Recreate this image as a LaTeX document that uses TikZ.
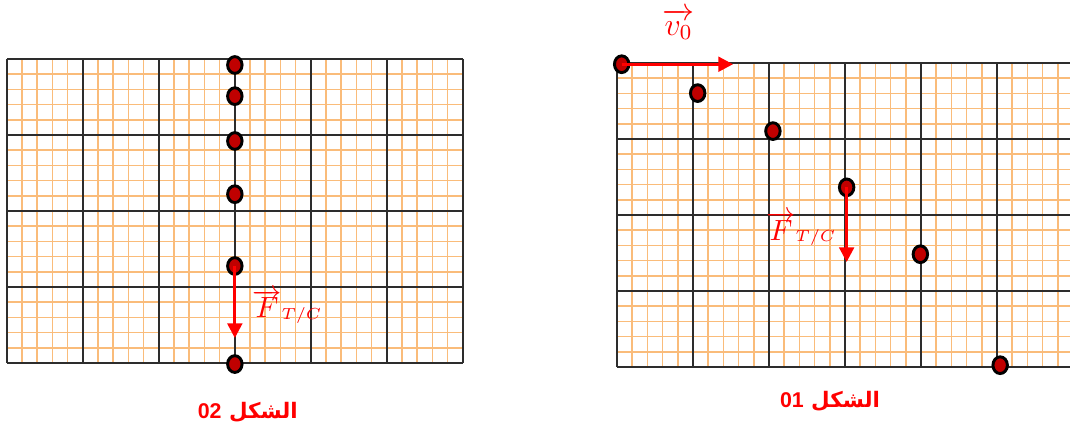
\documentclass[tikz,border=0pt]{standalone}
\usepackage{fontspec}
\usetikzlibrary{shapes.geometric, arrows.meta}
\TeXXeTstate=1
\newfontfamily\arabicfont[Script=Arabic]{DejaVu Sans}
\newfontfamily\digitfont{Liberation Sans}
\definecolor{gridorange}{RGB}{250,188,122}
\definecolor{gridblack}{RGB}{45,45,45}
\definecolor{ballred}{RGB}{192,0,0}
\newcommand{\forcelabel}{$\overrightarrow{F}\raisebox{-0.6pt}{\fontsize{6.5}{7}\selectfont$T/C$}$}

\begin{document}
\begin{tikzpicture}[
    ball/.style={ellipse, draw=black, line width=1.1pt, fill=ballred,
      minimum width=0.19cm, minimum height=0.22cm, inner sep=0pt},
    force/.style={red, line width=1.1pt, -{Triangle[length=5.5pt, width=5.5pt]}},
    minorline/.style={gridorange, line width=0.6pt},
    majorline/.style={gridblack, line width=0.75pt},
    caption/.style={red, font=\arabicfont\bfseries\fontsize{8}{10}\selectfont},
    vlabel/.style={red, inner sep=0pt, anchor=base west, font=\fontsize{10.5}{12}\selectfont}
  ]
    \useasboundingbox (0,0) rectangle (14.079,5.645);

    % Figure 02: graph paper
    \begin{scope}[shift={(0.09,0.87)}]
      \foreach \i in {1,...,29} \draw[minorline] (0.2*\i,0) -- (0.2*\i,4);
      \foreach \j in {1,...,19} \draw[minorline] (0,0.2*\j) -- (6,0.2*\j);
      \foreach \i in {0,...,6} \draw[majorline] (\i,0) -- (\i,4);
      \foreach \j in {0,...,4} \draw[majorline] (0,\j) -- (6,\j);
    \end{scope}

    % Figure 02: positions of the body
    \node[ball] (l1) at (3.09,4.79) {};
    \node[ball] (l2) at (3.09,4.38) {};
    \node[ball] (l3) at (3.09,3.79) {};
    \node[ball] (l4) at (3.09,3.09) {};
    \node[ball] (l5) at (3.09,2.145) {};
    \node[ball] (l6) at (3.09,0.855) {};

    % Figure 02: weight
    \coordinate (lf) at (3.09,1.197);
    \draw[force] (l5.center) -- (lf);
    \node[vlabel] (flabel) at (3.315,1.461) {\forcelabel};

    % Figure 01: graph paper
    \begin{scope}[shift={(8.118,0.816)}]
      \foreach \i in {1,...,29} \draw[minorline] (0.2*\i,0) -- (0.2*\i,4);
      \foreach \j in {1,...,19} \draw[minorline] (0,0.2*\j) -- (5.961,0.2*\j);
      \foreach \i in {0,...,5} \draw[majorline] (\i,0) -- (\i,4);
      \foreach \j in {0,...,4} \draw[majorline] (0,\j) -- (5.961,\j);
    \end{scope}

    % Figure 01: positions of the body
    \node[ball] (r1) at (8.18,4.80) {};
    \node[ball] (r2) at (9.18,4.42) {};
    \node[ball] (r3) at (10.17,3.92) {};
    \node[ball] (r4) at (11.14,3.18) {};
    \node[ball] (r5) at (12.11,2.30) {};
    \node[ball] (r6) at (13.16,0.84) {};

    % Figure 01: initial velocity & weight
    \coordinate (vtip) at (9.645,4.80);
    \coordinate (rf) at (11.14,2.197);
    \draw[force] (r1.center) -- (vtip);
    \draw[force] (r4.center) -- (rf);
    \node[vlabel, font=\fontsize{11.5}{13}\selectfont] (vlabel0) at (8.71,5.184) {$\overrightarrow{v_0\rule{0pt}{6.5pt}}$};
    \node[vlabel] (rlabel) at (10.078,2.487) {\forcelabel};

    % Captions
    \node[caption] (cap2) at (3.26,0.224) {\beginR الشكل \beginL{\digitfont 02}\endL\endR};
    \node[caption] (cap1) at (10.92,0.37) {\beginR الشكل \beginL{\digitfont 01}\endL\endR};
  \end{tikzpicture}
\end{document}
